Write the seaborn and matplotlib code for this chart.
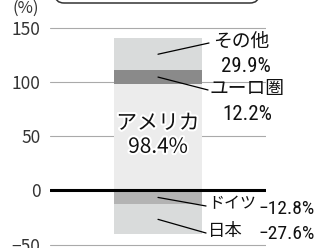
import numpy as np
import pandas as pd
import matplotlib
matplotlib.use("Agg")
import matplotlib.pyplot as plt
import matplotlib.patheffects as pe
from matplotlib.patches import FancyBboxPatch
from matplotlib.transforms import IdentityTransform
from matplotlib import font_manager
import seaborn as sns

# ---- data ----
segments = ["アメリカ", "ユーロ圏", "その他", "ドイツ", "日本"]
values = [98.4, 12.2, 29.9, -12.8, -27.6]
seg_colors = ["#ececec", "#8a8a8a", "#d9dbdb", "#b3b3b3", "#d9dbdb"]
yticks = [-50, 0, 50, 100, 150]
ytick_labels = ["−50", "0", "50", "100", "150"]

sns.set_theme(style="white")
plt.rcParams['font.family'] = ['Noto Sans CJK JP', 'DejaVu Sans']

installed = {f.name for f in font_manager.fontManager.ttflist}
narrow = next((n for n in ["Liberation Sans Narrow", "DejaVu Sans Condensed",
                           "Roboto Condensed", "Noto Sans CJK JP"] if n in installed),
              "Noto Sans CJK JP")
NUM_FONT = [narrow, 'DejaVu Sans']
CJK_FONT = ['Noto Sans CJK JP', 'DejaVu Sans']

W, H = 316, 248
fig = plt.figure(figsize=(W / 100, H / 100), dpi=100)
ax = fig.add_axes([50 / W, 0, 216 / W, 227.9 / H])

# stack positives upward, negatives downward
bottoms, tops = [], []
pos, neg = 0.0, 0.0
for v in values:
    if v >= 0:
        bottoms.append(pos); pos += v; tops.append(pos)
    else:
        bottoms.append(neg); neg += v; tops.append(neg)

# draw as overlapping cumulative bars (largest magnitude first)
order = sorted(range(len(values)), key=lambda i: -abs(tops[i]))
for i in order:
    df = pd.DataFrame({"g": ["all"], "v": [tops[i]]})
    sns.barplot(data=df, x="g", y="v", color=seg_colors[i], saturation=1,
                width=1.0, linewidth=0, ax=ax, zorder=2)

ax.set_xlim(-1.241, 1.241)
ax.set_ylim(-53, 157)
ax.set_axisbelow(True)
ax.grid(axis="y", color="#aaaaaa", linewidth=0.8)
ax.grid(axis="x", visible=False)
ax.axhline(0, color="black", linewidth=2.2, zorder=5)
for s in ax.spines.values():
    s.set_visible(False)
ax.set_yticks(yticks, ytick_labels)
ax.set_xticks([])
ax.set_xlabel("")
ax.set_ylabel("")
ax.tick_params(axis="y", length=0, pad=7, labelsize=12.5, labelcolor="#333333")

mids = [(b + t) / 2 for b, t in zip(bottoms, tops)]
TXT = "#111111"

# America label inside bar
ax.text(0, 51.2, f"{segments[0]}\n{values[0]:.1f}%", ha="center", va="center",
        fontsize=15, linespacing=1.1, color=TXT, zorder=6, family=CJK_FONT,
        path_effects=[pe.withStroke(linewidth=3, foreground="white")])

# leader lines
line_ends = {1: (0.575, 92.6), 2: (0.586, 135.9), 3: (0.552, -14.3), 4: (0.552, -39.2)}
for i, (ex, ey) in line_ends.items():
    ax.plot([0, ex], [mids[i], ey], color="black", linewidth=0.9, clip_on=False, zorder=6)

# upper labels (name line + value line)
ax.text(0.954, 137.6, segments[2], ha="center", va="center", fontsize=13.5,
        color=TXT, family=CJK_FONT, clip_on=False)
ax.text(1.006, 109.2, f"{values[2]:.1f}%", ha="center", va="baseline", fontsize=15,
        color=TXT, family=NUM_FONT, clip_on=False)
ax.text(1.023, 94.0, segments[1], ha="center", va="center", fontsize=13.5,
        color=TXT, family=CJK_FONT, clip_on=False)
ax.text(1.029, 65.0, f"{values[1]:.1f}%", ha="center", va="baseline", fontsize=15,
        color=TXT, family=NUM_FONT, clip_on=False)

# lower labels (name left, value right)
x_name = (208 - 158) / 87
x_val = (315 - 158) / 87
ax.text(x_name, -12.5, segments[3], ha="left", va="center", fontsize=11.5,
        color=TXT, family=CJK_FONT, clip_on=False)
ax.text(x_val, -21.8, f"−{abs(values[3]):.1f}%", ha="right", va="baseline",
        fontsize=14, color=TXT, family=NUM_FONT, clip_on=False)
ax.text(x_name, -37.6, segments[4], ha="left", va="center", fontsize=12.5,
        color=TXT, family=CJK_FONT, clip_on=False)
ax.text(x_val, -45.0, f"−{abs(values[4]):.1f}%", ha="right", va="baseline",
        fontsize=14, color=TXT, family=NUM_FONT, clip_on=False)

# unit label
fig.text(12 / W, 1 - 8 / H, "(%)", ha="left", va="center", fontsize=12, color="#333333")

# rounded title box (cut off at top)
box = FancyBboxPatch((55, H - 3), 204, 40, boxstyle="round,pad=0,rounding_size=9",
                     transform=IdentityTransform(), facecolor="white",
                     edgecolor="#333333", linewidth=1.1)
fig.patches.append(box)

fig.savefig("out.png", dpi=100)
